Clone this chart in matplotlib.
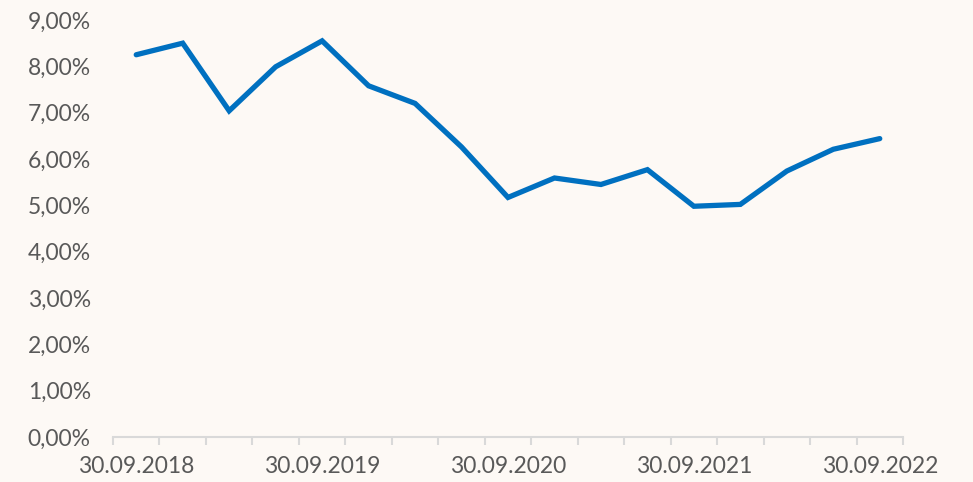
import matplotlib.pyplot as plt
from matplotlib.ticker import FuncFormatter, FixedLocator

plt.rcParams['font.family'] = ['Lato', 'DejaVu Sans']

# quarterly values, 30.09.2018 .. 30.09.2022
dates = ['30.09.2018', '31.12.2018', '31.03.2019', '30.06.2019',
         '30.09.2019', '31.12.2019', '31.03.2020', '30.06.2020',
         '30.09.2020', '31.12.2020', '31.03.2021', '30.06.2021',
         '30.09.2021', '31.12.2021', '31.03.2022', '30.06.2022',
         '30.09.2022']
values = [8.25, 8.50, 7.04, 7.99, 8.55, 7.58, 7.20, 6.26, 5.17,
          5.59, 5.45, 5.77, 4.98, 5.02, 5.74, 6.21, 6.44]

bg = '#fdf9f5'
txt = '#595959'

fig = plt.figure(figsize=(9.73, 4.82), dpi=100, facecolor=bg)
ax = fig.add_axes([113/973, 45/482, 790/973, 417/482], facecolor=bg)

x = list(range(len(values)))
ax.plot(x, values, color='#0070c0', lw=3.8, solid_capstyle='round',
        solid_joinstyle='miter')

ax.set_xlim(-0.5, len(values) - 0.5)
ax.set_ylim(0, 9)
ax.set_yticks(range(10))
ax.yaxis.set_major_formatter(FuncFormatter(lambda v, p: f'{v:.2f}'.replace('.', ',') + '%'))

lab_idx = [i for i, d in enumerate(dates) if d.startswith('30.09')]
ax.xaxis.set_major_locator(FixedLocator(lab_idx))
ax.set_xticklabels([dates[i] for i in lab_idx])
ax.xaxis.set_minor_locator(FixedLocator([i - 0.5 for i in range(len(values) + 1)]))

for s in ['top', 'right', 'left']:
    ax.spines[s].set_visible(False)
ax.spines['bottom'].set_color('#d9d9d9')
ax.spines['bottom'].set_linewidth(1.5)

ax.tick_params(axis='y', length=0, pad=16, labelsize=16.5, labelcolor=txt)
ax.tick_params(axis='x', which='major', length=0, pad=14, labelsize=16.5, labelcolor=txt)
ax.tick_params(axis='x', which='minor', length=6, width=1.5, color='#d9d9d9')

fig.savefig('out.png', dpi=100, facecolor=bg)
